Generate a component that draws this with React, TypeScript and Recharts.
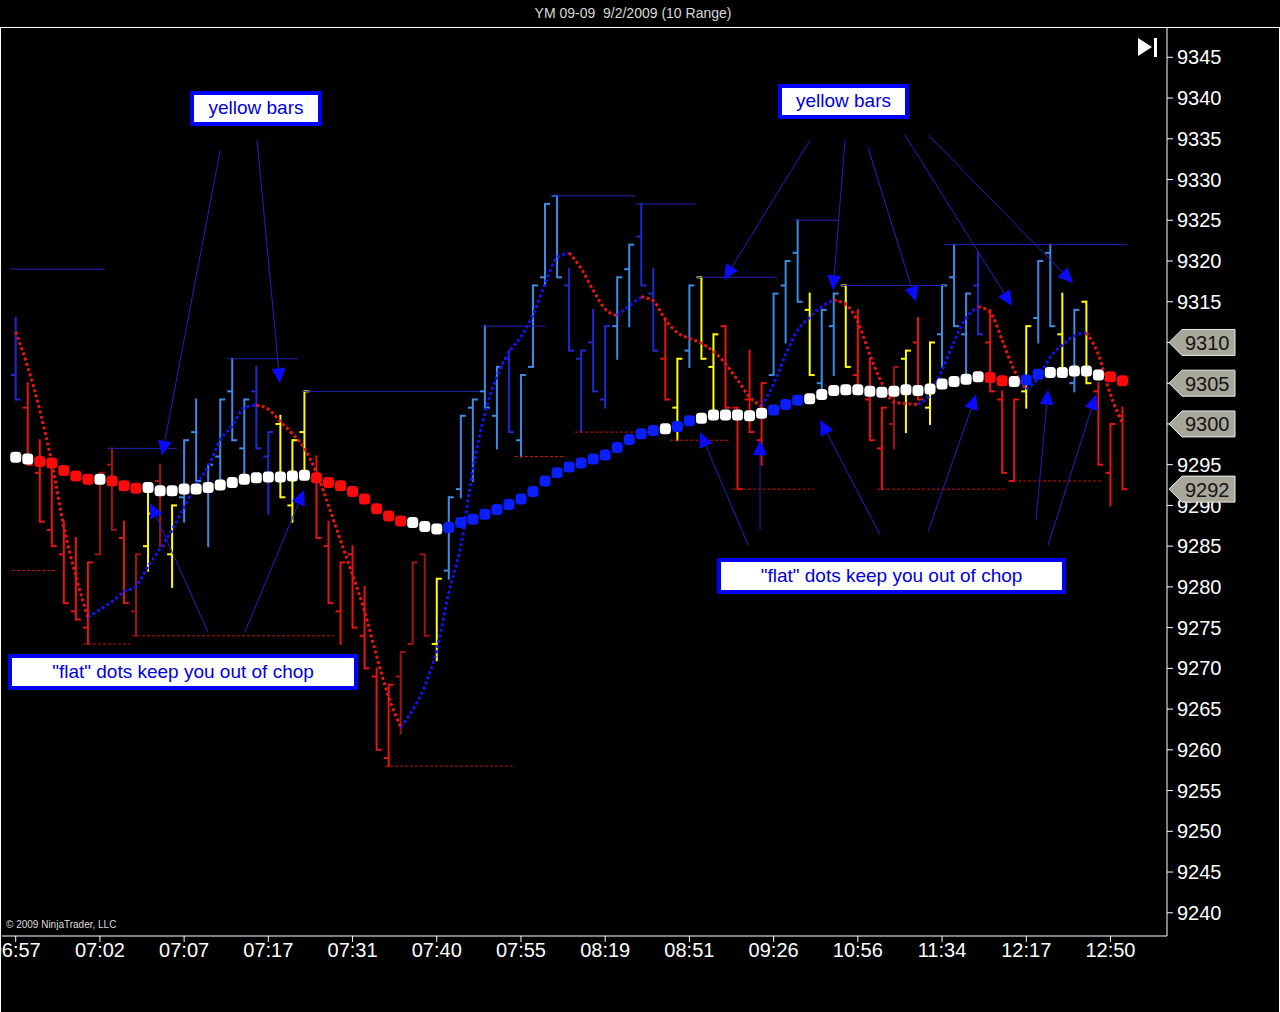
import React from 'react';
import { ComposedChart, Bar, Line, XAxis, YAxis, ReferenceLine } from 'recharts';

// axis labels
const TIME_TICKS = [0, 7, 14, 21, 28, 35, 42, 49, 56, 63, 70, 77, 84, 91];
const TIME_LABELS = ['06:57', '07:02', '07:07', '07:17', '07:31', '07:40', '07:55', '08:19', '08:51', '09:26', '10:56', '11:34', '12:17', '12:50'];
const PRICE_TICKS = [9240, 9245, 9250, 9255, 9260, 9265, 9270, 9275, 9280, 9285, 9290, 9295, 9300, 9305, 9310, 9315, 9320, 9325, 9330, 9335, 9340, 9345];

// 10 range bars
const OPENS = [
  9306, 9302, 9294, 9287, 9284, 9277, 9275, 9284, 9295, 9286,
  9277, 9285, 9293, 9284, 9291, 9299, 9292, 9296, 9304, 9297,
  9304, 9296, 9300, 9290, 9299, 9293, 9285, 9277, 9284, 9274,
  9269, 9259, 9269, 9273, 9284, 9273, 9282, 9292, 9302, 9304,
  9301, 9308, 9298, 9307, 9318, 9328, 9317, 9308, 9310, 9303,
  9312, 9319, 9323, 9316, 9308, 9302, 9309, 9318, 9307, 9312,
  9302, 9303, 9298, 9306, 9317, 9321, 9314, 9305, 9312, 9317,
  9306, 9303, 9297, 9300, 9308, 9310, 9302, 9311, 9318, 9311,
  9317, 9310, 9303, 9293, 9304, 9313, 9321, 9311, 9305, 9315,
  9304, 9294, 9301,
];
const HIGHS = [
  9313, 9305, 9298, 9295, 9288, 9286, 9283, 9294, 9297, 9288,
  9284, 9292, 9295, 9290, 9298, 9303, 9295, 9303, 9308, 9303,
  9307, 9299, 9301, 9298, 9304, 9296, 9288, 9283, 9285, 9280,
  9270, 9268, 9272, 9283, 9284, 9281, 9291, 9301, 9303, 9312,
  9307, 9309, 9306, 9317, 9327, 9328, 9319, 9309, 9314, 9312,
  9318, 9322, 9327, 9319, 9313, 9308, 9317, 9318, 9311, 9312,
  9302, 9309, 9305, 9316, 9320, 9325, 9316, 9314, 9316, 9317,
  9314, 9308, 9302, 9307, 9309, 9313, 9310, 9317, 9322, 9316,
  9321, 9314, 9304, 9303, 9312, 9320, 9322, 9316, 9314, 9315,
  9305, 9300, 9302,
];
const LOWS = [
  9303, 9295, 9288, 9285, 9278, 9276, 9273, 9284, 9287, 9278,
  9274, 9282, 9285, 9280, 9288, 9293, 9285, 9293, 9298, 9293,
  9297, 9289, 9291, 9288, 9294, 9286, 9278, 9273, 9275, 9270,
  9260, 9258, 9262, 9273, 9274, 9271, 9281, 9291, 9293, 9302,
  9297, 9299, 9296, 9307, 9317, 9318, 9309, 9299, 9304, 9302,
  9308, 9312, 9317, 9309, 9303, 9298, 9307, 9308, 9301, 9302,
  9292, 9299, 9295, 9306, 9310, 9315, 9306, 9304, 9306, 9307,
  9304, 9298, 9292, 9297, 9299, 9303, 9300, 9307, 9312, 9306,
  9311, 9304, 9294, 9293, 9302, 9310, 9312, 9306, 9304, 9305,
  9295, 9290, 9292,
];
const CLOSES = [
  9303, 9295, 9288, 9285, 9278, 9276, 9283, 9294, 9287, 9278,
  9284, 9289, 9285, 9290, 9298, 9293, 9295, 9303, 9298, 9303,
  9297, 9299, 9291, 9298, 9304, 9286, 9278, 9283, 9275, 9270,
  9260, 9268, 9272, 9283, 9274, 9281, 9291, 9301, 9303, 9302,
  9307, 9299, 9306, 9317, 9327, 9318, 9309, 9309, 9304, 9312,
  9318, 9322, 9317, 9309, 9303, 9308, 9317, 9308, 9311, 9302,
  9292, 9299, 9305, 9316, 9320, 9315, 9306, 9314, 9316, 9307,
  9304, 9298, 9302, 9307, 9309, 9303, 9310, 9317, 9312, 9316,
  9311, 9304, 9294, 9303, 9312, 9320, 9312, 9306, 9314, 9305,
  9295, 9300, 9292,
];
// LB light blue, DB dark blue, R red, DR dark red, Y yellow
const BAR_KINDS = [
  'DB', 'R', 'R', 'R', 'R', 'R', 'R', 'DR', 'DR', 'R',
  'DR', 'Y', 'DR', 'Y', 'LB', 'LB', 'LB', 'LB', 'LB', 'LB',
  'DB', 'DB', 'Y', 'Y', 'Y', 'R', 'R', 'R', 'R', 'R',
  'R', 'R', 'DR', 'DR', 'DR', 'Y', 'LB', 'LB', 'LB', 'LB',
  'LB', 'DB', 'LB', 'LB', 'LB', 'LB', 'DB', 'DB', 'DB', 'DB',
  'LB', 'LB', 'DB', 'DB', 'R', 'Y', 'LB', 'Y', 'Y', 'R',
  'R', 'R', 'R', 'LB', 'LB', 'LB', 'Y', 'LB', 'LB', 'Y',
  'R', 'R', 'R', 'DR', 'Y', 'R', 'Y', 'LB', 'LB', 'LB',
  'DB', 'R', 'R', 'R', 'Y', 'LB', 'LB', 'Y', 'LB', 'Y',
  'R', 'R', 'R',
];

// fast dotted average
const TREND = [
  9311.3, 9307, 9301.7, 9295.2, 9287.4, 9281.3, 9276.3, 9277.2, 9278.2, 9279.4,
  9280.1, 9282.5, 9284.7, 9287, 9289.8, 9292.5, 9294.8, 9298, 9299.8, 9302,
  9302.3, 9301.8, 9300.3, 9298.8, 9297, 9294, 9290, 9285.7, 9281.5, 9277,
  9271.5, 9266.5, 9262.8, 9264.9, 9267.8, 9272.3, 9279.3, 9285, 9294.4, 9301.3,
  9305.8, 9308.8, 9310.7, 9313.4, 9317.2, 9320.4, 9321, 9319.1, 9316.4, 9314.1,
  9313.3, 9314.5, 9315.6, 9315.1, 9312.8, 9311.2, 9310.5, 9309.9, 9308.9, 9307.4,
  9305.4, 9303.3, 9302.2, 9304.9, 9308.5, 9311.5, 9313.1, 9314.4, 9315.2, 9314.7,
  9312.5, 9308.5, 9305, 9302.7, 9302.5, 9302.4, 9303.6, 9306.6, 9310.1, 9313,
  9314.4, 9313.7, 9310.3, 9306.6, 9304.3, 9305.6, 9308.2, 9309.7, 9310.8, 9311.2,
  9308.5, 9303.6, 9300.1,
];

// slow "flat" dots
const FLAT = [
  9295.9, 9295.7, 9295.4, 9295.2, 9294.3, 9293.6, 9293.2, 9293.2, 9293.0, 9292.4,
  9292.1, 9292.2, 9291.8, 9291.8, 9292.0, 9292.0, 9292.2, 9292.5, 9292.8, 9293.2,
  9293.4, 9293.5, 9293.5, 9293.6, 9293.7, 9293.4, 9292.8, 9292.4, 9291.7, 9290.8,
  9289.6, 9288.7, 9288.1, 9287.9, 9287.4, 9287.1, 9287.3, 9287.9, 9288.3, 9288.9,
  9289.5, 9290.1, 9290.8, 9291.7, 9293.0, 9294.0, 9294.7, 9295.2, 9295.7, 9296.2,
  9297.1, 9298.1, 9298.8, 9299.2, 9299.4, 9299.7, 9300.4, 9300.7, 9301.1, 9301.1,
  9301.1, 9301.0, 9301.3, 9301.7, 9302.4, 9302.9, 9303.1, 9303.6, 9304.1, 9304.2,
  9304.2, 9304.0, 9303.9, 9304.0, 9304.2, 9304.1, 9304.3, 9304.9, 9305.2, 9305.5,
  9305.8, 9305.7, 9305.3, 9305.2, 9305.4, 9306.1, 9306.3, 9306.3, 9306.5, 9306.5,
  9306.0, 9305.8, 9305.3,
];
const FLAT_KINDS = (
  'WW' + 'RRRRR' + 'W' + 'RRR' + 'WWWWWWWWWWWWWW' + 'RRRRRRRR' + 'WWW' +
  'BBBBBBBBBBBBBBBBBB' + 'W' + 'BB' + 'WWWWWW' + 'BBB' + 'WWWWWWWWWWWWWWW' +
  'RR' + 'W' + 'BB' + 'WWWWW' + 'RR'
).split('');

// price tags on the axis
const MARKERS = [9310, 9305, 9300, 9292];

// level lines: [fromBar, toBar, price]
const BLUE_LEVELS: [number, number, number][] = [
  [-0.47, 7.42, 9319], [7.59, 13.4, 9297], [17.6, 23.47, 9308], [23.8, 38.6, 9304],
  [38.8, 44.0, 9312], [44.4, 51.5, 9328], [51.5, 56.5, 9327], [56.6, 63.3, 9318],
  [64.8, 68.4, 9325], [68.5, 77.2, 9317], [77.2, 92.4, 9322],
];
const RED_LEVELS: [number, number, number][] = [
  [-0.3, 3.5, 9282], [5.6, 9.5, 9273], [9.67, 26.5, 9274], [30.7, 41.3, 9258],
  [41.5, 45.7, 9296], [46.5, 54.1, 9299], [54.4, 59.4, 9298], [59.6, 66.4, 9292],
  [71.6, 82.2, 9292], [82.5, 90.4, 9293],
];

// annotation arrows: tail bar, tail price, tip bar, tip price
const ARROWS: [number, number, number, number][] = [
  [17.0, 9333.6, 12.16, 9296.1],
  [20.06, 9334.85, 21.97, 9305.0],
  [15.98, 9274.5, 11.17, 9290.3],
  [19.06, 9274.5, 23.97, 9291.9],
  [66.03, 9334.85, 58.88, 9317.7],
  [68.94, 9334.85, 67.94, 9316.4],
  [70.85, 9333.9, 74.84, 9315.0],
  [73.9, 9335.5, 82.82, 9314.5],
  [75.84, 9335.5, 87.89, 9317.3],
  [60.9, 9285.1, 56.88, 9299.0],
  [61.87, 9287.0, 61.87, 9298.0],
  [71.85, 9286.4, 66.86, 9300.5],
  [75.84, 9286.8, 79.83, 9303.6],
  [84.81, 9288.2, 85.81, 9304.2],
  [85.81, 9285.1, 89.8, 9303.6],
];

const BAR_COLORS: Record<string, string> = {
  LB: '#3c8ce6',
  DB: '#1e2ad0',
  R: '#e61414',
  DR: '#a01414',
  Y: '#ffff00',
};
const DOT_COLORS: Record<string, string> = { W: '#ffffff', R: '#ff0a0a', B: '#0a1eff' };

const X_DOMAIN: [number, number] = [-1.14, 95.7];
const Y_DOMAIN: [number, number] = [9237.15, 9348.72];
const MARGIN = { top: 27, right: 0, bottom: 36, left: 2 };

const data = HIGHS.map((h, i) => ({
  i,
  range: [LOWS[i], h],
  open: OPENS[i],
  high: h,
  low: LOWS[i],
  close: CLOSES[i],
  kind: BAR_KINDS[i],
  flat: FLAT[i],
  flatKind: FLAT_KINDS[i],
  trendUp: TREND[i + 1] > TREND[i] || TREND[i - 1] < TREND[i] ? TREND[i] : null,
  trendDown: TREND[i + 1] < TREND[i] || TREND[i - 1] > TREND[i] ? TREND[i] : null,
}));

const OhlcShape = (props: any) => {
  const { x, y, width, height, payload } = props;
  if (!payload || typeof y !== 'number' || isNaN(y)) return null;
  const top = Math.min(y, y + height);
  const h = Math.abs(height);
  const cx = x + width / 2;
  const k = h / (payload.high - payload.low);
  const yo = top + (payload.high - payload.open) * k;
  const yc = top + (payload.high - payload.close) * k;
  return (
    <g stroke={BAR_COLORS[payload.kind]} strokeWidth={2}>
      <line x1={cx} y1={top - 1} x2={cx} y2={top + h + 1} />
      <line x1={cx - 5} y1={yo} x2={cx} y2={yo} />
      <line x1={cx} y1={yc} x2={cx + 5} y2={yc} />
    </g>
  );
};

const FlatDot = (props: any) => {
  const { cx, cy, payload, index } = props;
  if (typeof cy !== 'number' || isNaN(cy)) return <g key={`fd${index}`} />;
  return (
    <rect
      key={`fd${index}`}
      x={cx - 5.5}
      y={cy - 5.5}
      width={11}
      height={11}
      rx={3.5}
      fill={DOT_COLORS[payload.flatKind]}
    />
  );
};

const ArrowShape = (p: any) => {
  const { x1, y1, x2, y2 } = p;
  if ([x1, y1, x2, y2].some((v) => typeof v !== 'number' || isNaN(v))) return null;
  const a = Math.atan2(y2 - y1, x2 - x1);
  const L = 15;
  const W = 7;
  const bx = x2 - L * Math.cos(a);
  const by = y2 - L * Math.sin(a);
  const s = Math.sin(a);
  const c = Math.cos(a);
  const pts = `${x2},${y2} ${bx + W * s},${by - W * c} ${bx - W * s},${by + W * c}`;
  return (
    <g>
      <line x1={x1} y1={y1} x2={bx} y2={by} stroke="#2020c8" strokeWidth={1} />
      <polygon points={pts} fill="#0a0aff" />
    </g>
  );
};

const PriceTag = ({ viewBox, text }: any) => {
  if (!viewBox) return null;
  const xr = viewBox.x + viewBox.width;
  const y = viewBox.y;
  const pts = `${xr + 2},${y} ${xr + 15},${y - 13} ${xr + 68},${y - 13} ${xr + 68},${y + 13} ${xr + 15},${y + 13}`;
  return (
    <g>
      <polygon points={pts} fill="#a9a79a" stroke="#e8e8e8" strokeWidth={1} />
      <text x={xr + 18} y={y + 7.5} fontSize={20} fill="#141414">
        {text}
      </text>
    </g>
  );
};

const boxStyle = (left: number, top: number, width: number, height: number): React.CSSProperties => ({
  position: 'absolute',
  left,
  top,
  width,
  height,
  boxSizing: 'border-box',
  border: '4px solid #0000ff',
  background: '#ffffff',
  color: '#0000dd',
  fontSize: 19,
  lineHeight: `${height - 9}px`,
  textAlign: 'center',
  whiteSpace: 'nowrap',
});

export default function App() {
  return (
    <div
      style={{
        position: 'absolute',
        left: 0,
        top: 0,
        width: 1280,
        height: 1012,
        background: '#000',
        overflow: 'hidden',
        fontFamily: '"Liberation Sans", Arial, sans-serif',
      }}
    >
      <div
        style={{
          position: 'absolute',
          left: 0,
          top: 5,
          width: 1266,
          textAlign: 'center',
          color: '#d8d8d8',
          fontSize: 14,
          whiteSpace: 'pre',
        }}
      >
        {'YM 09-09  9/2/2009 (10 Range)'}
      </div>
      <div
        style={{
          position: 'absolute',
          left: 0,
          top: 27,
          width: 1280,
          height: 985,
          boxSizing: 'border-box',
          borderTop: '1px solid #ffffff',
          borderLeft: '1px solid #ffffff',
          borderRight: '1px solid #ffffff',
        }}
      />
      <div style={{ position: 'absolute', left: 0, top: 0 }}>
        <ComposedChart width={1280} height={1012} data={data} margin={MARGIN}>
          <XAxis
            type="number"
            dataKey="i"
            domain={X_DOMAIN}
            allowDataOverflow
            ticks={TIME_TICKS}
            interval={0}
            tickFormatter={(v: number) => TIME_LABELS[TIME_TICKS.indexOf(v)] ?? ''}
            stroke="#ffffff"
            tick={{ fill: '#ffffff', fontSize: 20 }}
            tickSize={6}
            tickMargin={1}
            height={40}
          />
          <YAxis
            orientation="right"
            type="number"
            domain={Y_DOMAIN}
            allowDataOverflow
            ticks={PRICE_TICKS}
            interval={0}
            stroke="#ffffff"
            tick={{ fill: '#ffffff', fontSize: 20, textAnchor: 'start' }}
            tickSize={6}
            tickMargin={4}
            width={113}
          />
          {BLUE_LEVELS.map(([a, b, p], k) => (
            <ReferenceLine
              key={`bl${k}`}
              segment={[{ x: a, y: p }, { x: b, y: p }]}
              stroke="#2424b8"
              strokeWidth={1}
            />
          ))}
          {RED_LEVELS.map(([a, b, p], k) => (
            <ReferenceLine
              key={`rl${k}`}
              segment={[{ x: a, y: p }, { x: b, y: p }]}
              stroke="#c81414"
              strokeWidth={1}
              strokeDasharray="3 2"
            />
          ))}
          <Bar dataKey="range" barSize={12} shape={OhlcShape} isAnimationActive={false} />
          <Line
            dataKey="trendUp"
            type="monotone"
            stroke="#1414f0"
            strokeWidth={3}
            strokeDasharray="3 2.5"
            dot={false}
            activeDot={false}
            connectNulls={false}
            isAnimationActive={false}
          />
          <Line
            dataKey="trendDown"
            type="monotone"
            stroke="#e81414"
            strokeWidth={3}
            strokeDasharray="3 2.5"
            dot={false}
            activeDot={false}
            connectNulls={false}
            isAnimationActive={false}
          />
          <Line
            dataKey="flat"
            stroke="none"
            dot={FlatDot}
            activeDot={false}
            isAnimationActive={false}
          />
          {ARROWS.map(([x1, y1, x2, y2], k) => (
            <ReferenceLine
              key={`ar${k}`}
              segment={[{ x: x1, y: y1 }, { x: x2, y: y2 }]}
              shape={ArrowShape}
            />
          ))}
        </ComposedChart>
      </div>
      {/* price tags drawn on a second, transparent chart so they sit above the axis labels */}
      <div style={{ position: 'absolute', left: 0, top: 0 }}>
        <ComposedChart
          width={1280}
          height={1012}
          data={data}
          margin={{ top: MARGIN.top, right: 113, bottom: MARGIN.bottom + 40, left: MARGIN.left }}
        >
          <XAxis type="number" dataKey="i" domain={X_DOMAIN} allowDataOverflow hide />
          <YAxis type="number" domain={Y_DOMAIN} allowDataOverflow hide />
          <Line dataKey="flat" stroke="none" dot={false} activeDot={false} isAnimationActive={false} />
          {MARKERS.map((m) => (
            <ReferenceLine
              key={`mk${m}`}
              y={m}
              stroke="none"
              label={(p: any) => <PriceTag viewBox={p.viewBox} text={String(m)} />}
            />
          ))}
        </ComposedChart>
      </div>
      <svg style={{ position: 'absolute', left: 1136, top: 36 }} width={26} height={24}>
        <polygon points="2,2 16,11 2,20" fill="#ffffff" />
        <rect x={18} y={2} width={3} height={19} fill="#ffffff" />
      </svg>
      <div style={{ position: 'absolute', left: 6, top: 919, color: '#dddddd', fontSize: 10 }}>
        © 2009 NinjaTrader, LLC
      </div>
      <div style={boxStyle(190, 91, 132, 35)}>yellow bars</div>
      <div style={boxStyle(778, 84, 131, 35)}>yellow bars</div>
      <div style={boxStyle(717, 558, 349, 36)}>"flat" dots keep you out of chop</div>
      <div style={boxStyle(8, 654, 350, 36)}>"flat" dots keep you out of chop</div>
    </div>
  );
}
